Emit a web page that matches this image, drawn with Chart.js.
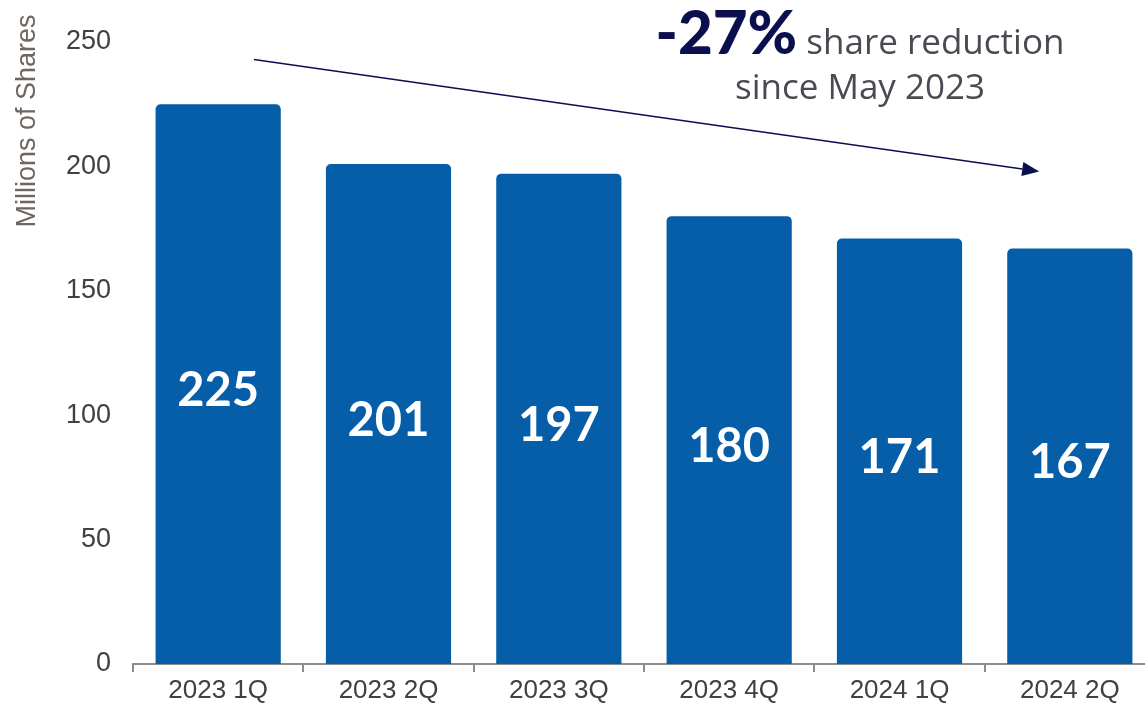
<!DOCTYPE html>
<html>
<head>
<meta charset="utf-8">
<script src="https://cdn.jsdelivr.net/npm/chart.js@4"></script>
<style>
  html, body { margin: 0; padding: 0; background: #fff; overflow: hidden; }
  #wrap { width: 1160px; height: 708px; }
</style>
</head>
<body>
<div id="wrap"><canvas id="sharesChart"></canvas></div>
<script>
// data
const quarters = ['2023 1Q', '2023 2Q', '2023 3Q', '2023 4Q', '2024 1Q', '2024 2Q'];
const sharesMillions = [225, 201, 197, 180, 171, 167];
const yMax = 250;
const yStep = 50;

// callout: arrow from (category index, value) to (category index, value)
const arrowFrom = [0.21, 243];
const arrowTo = [4.82, 198];
const calloutBig = '-27%';
const calloutLine1 = ' share reduction';
const calloutLine2 = 'since May 2023';

const barBlue = '#055EA7';
const navy = '#0B0F4E';
const textGray = '#404040';

// white numbers in the middle of every bar
const barLabels = {
  id: 'barLabels',
  afterDatasetsDraw(chart) {
    const ctx = chart.ctx;
    const meta = chart.getDatasetMeta(0);
    ctx.save();
    ctx.fillStyle = '#fff';
    ctx.font = '700 47px Lato';
    ctx.textAlign = 'center';
    ctx.textBaseline = 'middle';
    meta.data.forEach((bar, i) => {
      const mid = (bar.y + bar.base) / 2;
      ctx.fillText(String(sharesMillions[i]), bar.x, mid + 7);
    });
    ctx.restore();
  }
};

// axis title placed near the top like the slide
const yTitle = {
  id: 'yTitle',
  afterDraw(chart) {
    const ctx = chart.ctx;
    ctx.save();
    ctx.translate(28, 121);
    ctx.rotate(-Math.PI / 2);
    ctx.fillStyle = '#6E6660';
    ctx.font = '27px "Liberation Sans", Arial';
    ctx.textAlign = 'center';
    ctx.textBaseline = 'middle';
    ctx.fillText('Millions of Shares', 0, 0);
    ctx.restore();
  }
};

// trend arrow + callout text
const callout = {
  id: 'callout',
  afterDraw(chart) {
    const { ctx, scales: { x, y } } = chart;
    const x1 = x.getPixelForValue(arrowFrom[0]), y1 = y.getPixelForValue(arrowFrom[1]);
    const x2 = x.getPixelForValue(arrowTo[0]), y2 = y.getPixelForValue(arrowTo[1]);
    const ang = Math.atan2(y2 - y1, x2 - x1);
    const headLen = 17, headHalf = 7;
    ctx.save();
    ctx.strokeStyle = navy;
    ctx.fillStyle = navy;
    ctx.lineWidth = 1.5;
    ctx.beginPath();
    ctx.moveTo(x1, y1);
    ctx.lineTo(x2 - headLen * Math.cos(ang), y2 - headLen * Math.sin(ang));
    ctx.stroke();
    ctx.beginPath();
    ctx.moveTo(x2, y2);
    ctx.lineTo(x2 - headLen * Math.cos(ang) + headHalf * Math.sin(ang), y2 - headLen * Math.sin(ang) - headHalf * Math.cos(ang));
    ctx.lineTo(x2 - headLen * Math.cos(ang) - headHalf * Math.sin(ang), y2 - headLen * Math.sin(ang) + headHalf * Math.cos(ang));
    ctx.closePath();
    ctx.fill();

    // text block centred on x = 860
    const cx = 860;
    ctx.textBaseline = 'alphabetic';
    ctx.textAlign = 'left';
    const bigFont = '900 60px Lato';
    const smallFont = '35px "Open Sans"';
    ctx.font = bigFont;
    const wBig = ctx.measureText(calloutBig).width;
    ctx.font = smallFont;
    const wSmall = ctx.measureText(calloutLine1).width;
    let left = cx - (wBig + wSmall) / 2;
    ctx.font = bigFont;
    ctx.fillStyle = navy;
    ctx.fillText(calloutBig, left, 54);
    ctx.font = smallFont;
    ctx.fillStyle = '#4A4A52';
    ctx.fillText(calloutLine1, left + wBig, 54);
    ctx.textAlign = 'center';
    ctx.fillText(calloutLine2, cx, 99);
    ctx.restore();
  }
};

new Chart(document.getElementById('sharesChart'), {
  type: 'bar',
  data: {
    labels: quarters,
    datasets: [{
      data: sharesMillions,
      backgroundColor: barBlue,
      borderRadius: { topLeft: 5, topRight: 5, bottomLeft: 0, bottomRight: 0 },
      borderSkipped: 'bottom',
      barPercentage: 0.735,
      categoryPercentage: 1
    }]
  },
  options: {
    responsive: true,
    maintainAspectRatio: false,
    animation: false,
    layout: { padding: { top: 42, left: 0, right: 5, bottom: 0 } },
    plugins: {
      legend: { display: false },
      tooltip: { enabled: false }
    },
    scales: {
      x: {
        afterFit(scale) { scale.height = 44; },
        grid: {
          display: true,
          drawOnChartArea: false,
          drawTicks: true,
          tickLength: 8,
          color: '#8C8C8C',
          lineWidth: 2
        },
        border: { display: true, color: '#8C8C8C', width: 2 },
        ticks: {
          color: textGray,
          font: { family: '"Liberation Sans", Arial', size: 26 },
          padding: 3,
          maxRotation: 0
        }
      },
      y: {
        min: 0,
        max: yMax,
        afterFit(scale) { scale.width = 133; },
        grid: { display: false, drawTicks: false },
        border: { display: false },
        ticks: {
          stepSize: yStep,
          color: textGray,
          font: { family: '"Liberation Sans", Arial', size: 27 },
          padding: 22
        }
      }
    }
  },
  plugins: [barLabels, yTitle, callout]
});
</script>
</body>
</html>
